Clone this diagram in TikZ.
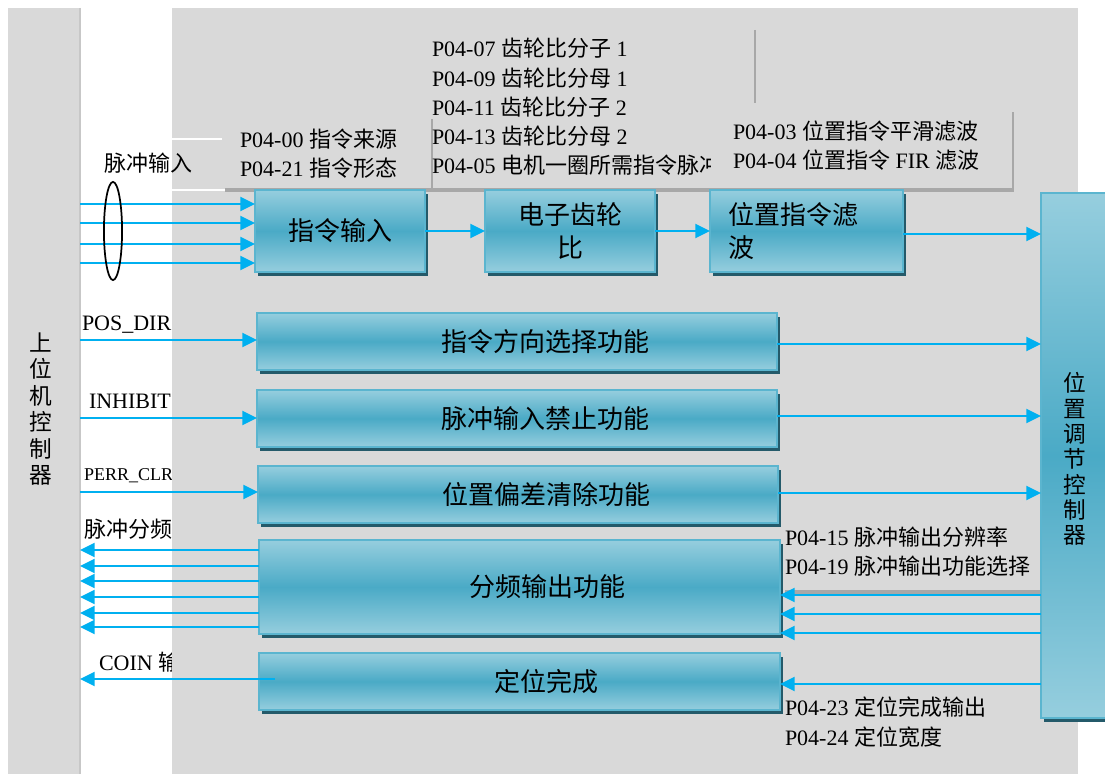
\documentclass[tikz,border=0pt]{standalone}
\usepackage{fontspec}
\setmainfont{Liberation Serif}
\newfontfamily\cjk{Noto Sans CJK SC}
\newcommand\zh[1]{{\cjk #1}}
\usetikzlibrary{arrows.meta,fit}
\definecolor{bggrey}{HTML}{D9D9D9}
\definecolor{arrowc}{HTML}{00B0F0}
\definecolor{blklight}{HTML}{96CEDE}
\definecolor{blkdark}{HTML}{4AAAC6}
\definecolor{blkedge}{HTML}{5BB5CF}
\definecolor{shadowc}{HTML}{245A6A}
\definecolor{boxshade}{HTML}{A8A8A8}
\newcommand\blkbox[6]{%
  \fill[shadowc] (#2+3,#3+4) rectangle (#4+3,#5+4);
  \node[blk, fit={(#2,#3) (#4,#5)}] (#1) {};
  \node[blktxt] (#1-t) at (#1.center) {#6};}
\begin{document}
\begin{tikzpicture}[x=0.75pt,y=-0.75pt,
  every node/.style={inner sep=0pt, outer sep=0pt},
  arr/.style={draw=arrowc, line width=1.5pt, -{Triangle[length=11pt,width=10.5pt]}},
  blk/.style={draw=blkedge, line width=2pt, top color=blklight, bottom color=blklight, middle color=blkdark, inner sep=0pt},
  blktxt/.style={align=center, font=\cjk\fontsize{19.5pt}{25pt}\selectfont},
  par/.style={anchor=base west, font=\fontsize{16.5pt}{20pt}\selectfont},
  lbl/.style={anchor=base west, font=\fontsize{16.5pt}{20pt}\selectfont},
  vtxt/.style={align=center, font=\cjk\fontsize{17pt}{19.8pt}\selectfont},
  sh/.style={draw=boxshade, line width=3pt},
  shv/.style={draw=boxshade, line width=1.6pt},
]
\useasboundingbox[fill=white] (0,0) rectangle (1105,774);
% left labels, partly hidden by the grey panel
\node[lbl] (posdir) at (82,330) {POS\_DIR};
\node[lbl] (inhibit) at (89,408) {INHIBIT};
\node[lbl, font=\fontsize{13.5pt}{16pt}\selectfont] (perrlbl) at (84,480) {PERR\_CLR};
\node[lbl, font=\cjk\fontsize{16.5pt}{20pt}\selectfont] (divlbl) at (84,537) {脉冲分频};
\node[lbl] (coinlbl) at (99,670) {COIN \zh{输出}};
% grey panels
\fill[bggrey] (172,8) rectangle (1078,774);
\node[fill=bggrey, fit={(8,8) (80,774)}] (host) {};
\draw[color=black!22, line width=0.8pt] (host.north east) -- (host.south east);
\node[vtxt] (hostlbl) at (41,409) {上\\位\\机\\控\\制\\器};
% parameter text boxes
\draw[white, line width=1.6pt] (172,139) -- (222,139);
\draw[white, line width=1.6pt] (172,190) -- (225,190);
\draw[sh] (225,190) -- (712,190);
\draw[shv] (432,119) -- (432,192);
\draw[shv] (755,30) -- (755,103);
\node[par] (p0400) at (240,147) {P04-00 \zh{指令来源}};
\node[par] (p0421) at (240,176) {P04-21 \zh{指令形态}};
\node[par] (p0407) at (432,57) {P04-07 \zh{齿轮比分子} 1};
\node[par] (p0409) at (432,86) {P04-09 \zh{齿轮比分母} 1};
\node[par] (p0411) at (432,115) {P04-11 \zh{齿轮比分子} 2};
\node[par] (p0413) at (432,144) {P04-13 \zh{齿轮比分母} 2};
\node[par] (p0405) at (432,173) {P04-05 \zh{电机一圈所需指令脉冲}};
\fill[bggrey] (711,111) rectangle (1013,189);
\draw[sh] (711,190) -- (1014,190);
\draw[shv] (1013,112) -- (1013,190);
\node[par] (p0403) at (733,139) {P04-03 \zh{位置指令平滑滤波}};
\node[par] (p0404) at (733,168) {P04-04 \zh{位置指令} FIR \zh{滤波}};
\draw[sh] (785,592) -- (1041,592);
\node[par] (p0415) at (785,545) {P04-15 \zh{脉冲输出分辨率}};
\node[par] (p0419) at (785,574) {P04-19 \zh{脉冲输出功能选择}};
\node[par] (p0423) at (785,715) {P04-23 \zh{定位完成输出}};
\node[par] (p0424) at (785,745) {P04-24 \zh{定位宽度}};
% blocks
\blkbox{cmd}{255}{190}{425}{272}{指令输入}
\blkbox{gear}{485}{190}{655}{272}{电子齿轮\\比}
\fill[shadowc] (713,194) rectangle (906,276);
\node[blk, fit={(710,190) (903,272)}] (filt) {};
\node[anchor=west, align=left, font=\cjk\fontsize{19.5pt}{25pt}\selectfont] (filtlbl) at ([xshift=14pt]filt.west) {位置指令滤\\波};
\blkbox{dir}{257}{313}{777}{370}{\hspace*{42pt}指令方向选择功能}
\blkbox{inh}{257}{390}{777}{447}{\hspace*{42pt}脉冲输入禁止功能}
\blkbox{perrb}{258}{466}{778}{523}{\hspace*{42pt}位置偏差清除功能}
\blkbox{div}{259}{540}{780}{634}{\hspace*{42pt}分频输出功能}
\blkbox{coin}{259}{653}{780}{710}{\hspace*{40pt}定位完成}
\fill[shadowc] (1044,718) rectangle (1115,722);
\node[blk, fit={(1041,193) (1110,718)}] (ctrl) {};
\node[align=center, font=\cjk\fontsize{17pt}{19pt}\selectfont] (ctrllbl) at (1075,459) {位\\置\\调\\节\\控\\制\\器};
% pulse input
\node[lbl, font=\cjk\fontsize{16.5pt}{20pt}\selectfont] (pulselbl) at (104,171) {脉冲输入};
\foreach \yy in {204,223,244,263} \draw[arr] (host.east |- 0,\yy) -- (cmd.west |- 0,\yy);
\draw[line width=1.3pt] (113,231) ellipse [x radius=6.8pt, y radius=36.8pt];
% connectors
\draw[arr] (cmd.east) -- (gear.west);
\draw[arr] (gear.east) -- (filt.west);
\draw[arr] (filt.east |- 0,234) -- (ctrl.west |- 0,234);
\draw[arr] (host.east |- 0,340) -- (dir.west |- 0,340);
\draw[arr] (host.east |- 0,418) -- (inh.west |- 0,418);
\draw[arr] (host.east |- 0,492) -- (perrb.west |- 0,492);
\draw[arr] (dir.east |- 0,344) -- (ctrl.west |- 0,344);
\draw[arr] (inh.east |- 0,416) -- (ctrl.west |- 0,416);
\draw[arr] (perrb.east |- 0,493) -- (ctrl.west |- 0,493);
\foreach \yy in {550,566,581,597,613,627} \draw[arr] (div.west |- 0,\yy) -- (host.east |- 0,\yy);
\draw[arr] ([xshift=12pt]coin.west |- 0,679) -- (host.east |- 0,679);
\foreach \yy in {595,614,633} \draw[arr] (ctrl.west |- 0,\yy) -- (div.east |- 0,\yy);
\draw[arr] (ctrl.west |- 0,684) -- (coin.east |- 0,684);
\end{tikzpicture}
\end{document}
